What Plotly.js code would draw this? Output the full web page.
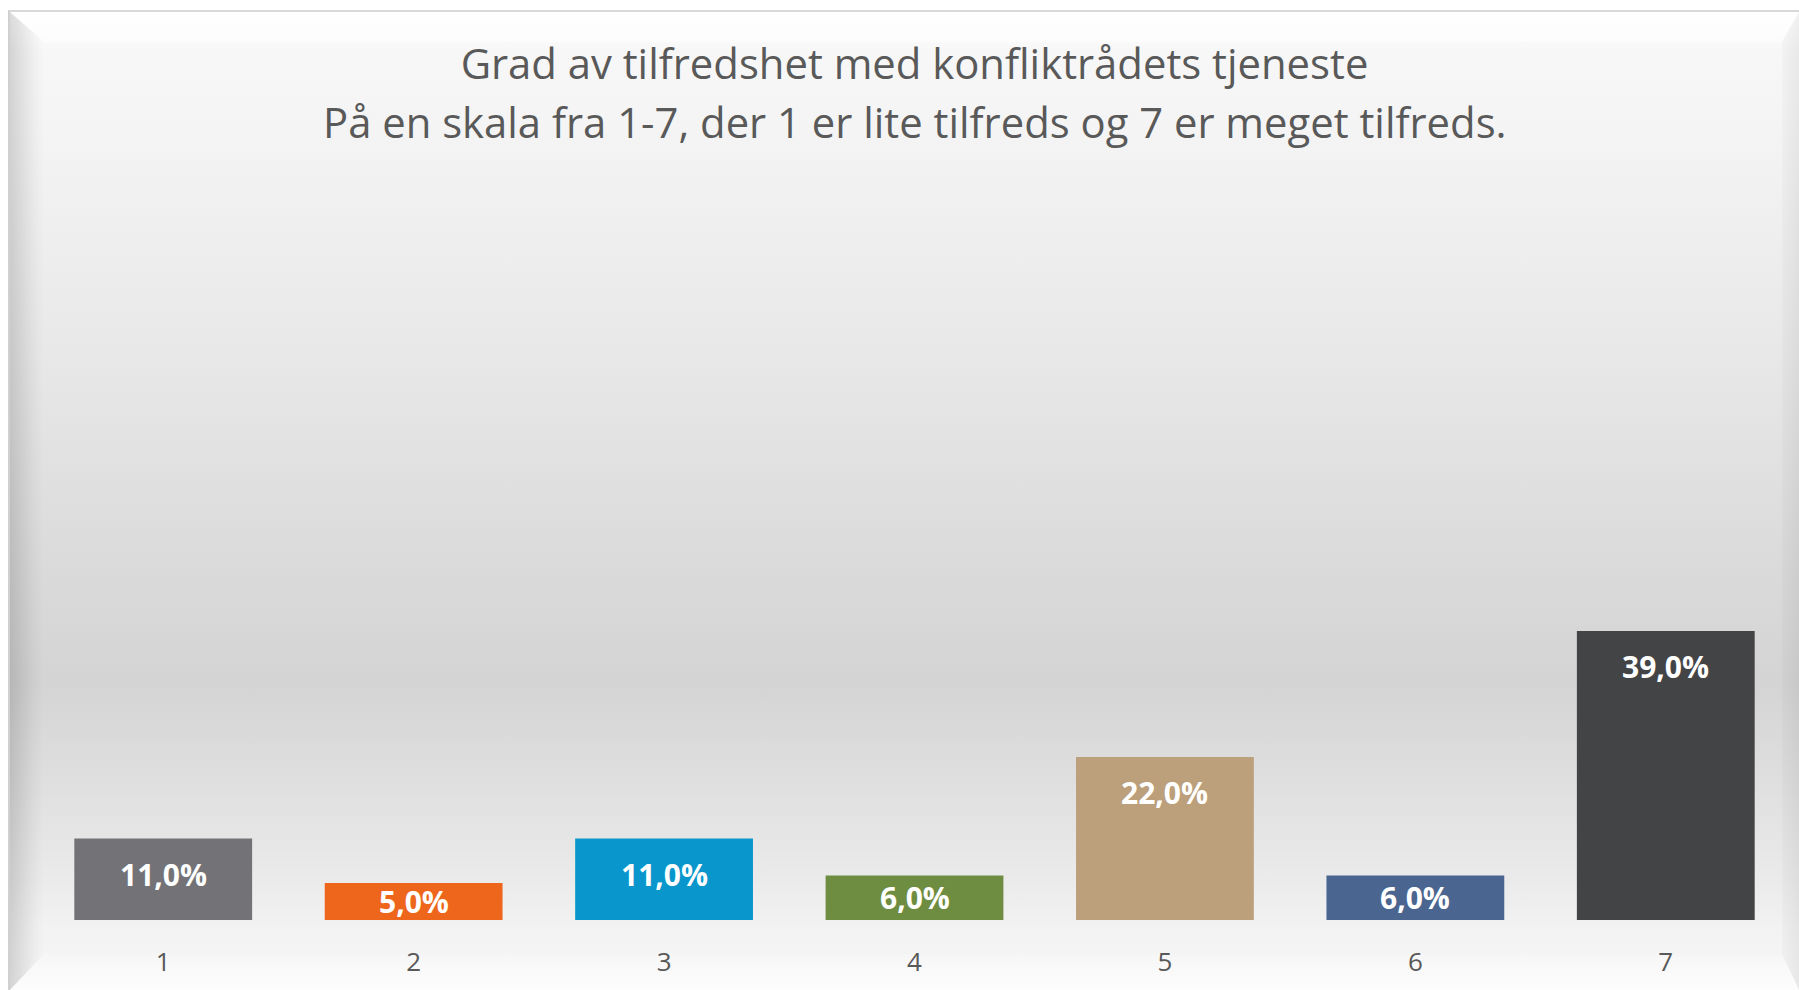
<!DOCTYPE html>
<html>
<head>
<meta charset="utf-8">
<script src="https://cdn.plot.ly/plotly-3.0.1.min.js"></script>
<style>
html,body{margin:0;padding:0;background:#ffffff;width:1799px;height:990px;overflow:hidden;}
#bg{position:absolute;left:8px;top:10px;width:1791px;height:980px;box-sizing:border-box;
  border-top:2px solid #d9d9d9;border-left:2px solid #d0d0d0;
  background:linear-gradient(to bottom,#ffffff 0px,#f7f7f7 40px,#f4f4f4 120px,#e8e8e8 340px,#dadada 560px,#d4d4d4 670px,#e0e0e0 780px,#ebebeb 870px,#f2f2f2 915px,#f7f7f7 980px);}
.bev{position:absolute;pointer-events:none;}
#bevTop{left:10px;top:12px;width:1789px;height:30px;background:linear-gradient(to bottom,#ffffff,#fcfcfc);
  clip-path:polygon(0 0,100% 0,calc(100% - 17px) 100%,34px 100%);}
#bevLeft{left:10px;top:12px;width:34px;height:978px;background:linear-gradient(to right,rgba(0,0,0,0.14),rgba(0,0,0,0.03) 70%,rgba(0,0,0,0));
  clip-path:polygon(0 0,100% 30px,100% calc(100% - 36px),0 100%);}
#bevBottom{left:10px;top:954px;width:1789px;height:36px;background:linear-gradient(to bottom,rgba(255,255,255,0.2),rgba(255,255,255,0.7));
  clip-path:polygon(34px 0,calc(100% - 17px) 0,100% 100%,0 100%);}
#bevRight{left:1782px;top:12px;width:17px;height:978px;background:linear-gradient(to right,rgba(0,0,0,0.02),rgba(0,0,0,0.06));
  clip-path:polygon(0 30px,100% 0,100% 100%,0 calc(100% - 36px));}
#plot{position:absolute;left:0;top:0;width:1799px;height:990px;}
</style>
</head>
<body>
<div id="bg"></div>
<div class="bev" id="bevTop"></div>
<div class="bev" id="bevLeft"></div>
<div class="bev" id="bevBottom"></div>
<div class="bev" id="bevRight"></div>
<div id="plot"></div>
<script>
// ---- data ----
const categories = ['1', '2', '3', '4', '5', '6', '7'];
const values = [11, 5, 11, 6, 22, 6, 39];           // percent
const barColors = ['#737377', '#ee661b', '#0896cc', '#6f8d40', '#bba07b', '#4a6690', '#434446'];
const titleLine1 = 'Grad av tilfredshet med konfliktrådets tjeneste';
const titleLine2 = 'På en skala fra 1-7, der 1 er lite tilfreds og 7 er meget tilfreds.';

// ---- layout constants ----
const W = 1799, H = 990;
const M = {l: 38, r: 8, t: 170, b: 70};
const YMAX = 101.2;
const plotH = H - M.t - M.b;
const pxPerUnit = plotH / YMAX;
const FONT = 'Open Sans, Noto Sans, sans-serif';
const GREY = '#595959';

const labels = values.map(v => v.toFixed(1).replace('.', ',') + '%');

const trace = {
  type: 'bar',
  x: categories,
  y: values,
  marker: {color: barColors, line: {width: 0}},
  hoverinfo: 'skip'
};

// on a category axis, annotation x is the category index
const labelAnnotations = categories.map((c, i) => ({
  x: i, y: values[i], xref: 'x', yref: 'y',
  text: labels[i], showarrow: false,
  xanchor: 'center', yanchor: 'middle',
  yshift: -Math.min(36, values[i] * pxPerUnit / 2),
  font: {family: FONT, size: 30, color: '#ffffff', weight: 700}
}));

const layout = {
  width: W, height: H,
  margin: M,
  paper_bgcolor: 'rgba(0,0,0,0)',
  plot_bgcolor: 'rgba(0,0,0,0)',
  showlegend: false,
  bargap: 0.29,
  title: {
    text: titleLine1,
    font: {family: FONT, size: 41.8, color: GREY},
    x: 0.5, xref: 'paper', xanchor: 'center',
    y: 1 - 64 / H, yref: 'container', yanchor: 'middle'
  },
  xaxis: {
    type: 'category',
    range: [-0.5, categories.length - 0.5],
    showgrid: false, zeroline: false, showline: false,
    ticks: '',
    ticklabelstandoff: 24,
    tickfont: {family: FONT, size: 26, color: GREY}
  },
  yaxis: {range: [0, YMAX], visible: false, fixedrange: true},
  annotations: [{
    xref: 'paper', yref: 'paper', x: 0.5, y: (H - M.b - 121) / plotH,
    xanchor: 'center', yanchor: 'middle', showarrow: false,
    text: titleLine2,
    font: {family: FONT, size: 41.8, color: GREY}
  }].concat(labelAnnotations)
};

Plotly.newPlot('plot', [trace], layout, {displayModeBar: false, staticPlot: true});
</script>
</body>
</html>
